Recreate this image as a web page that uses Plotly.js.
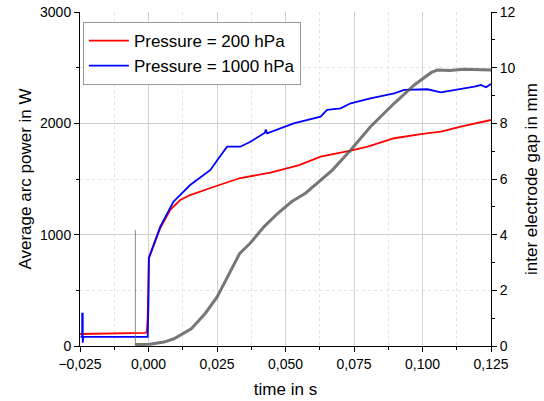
<!DOCTYPE html>
<html><head><meta charset="utf-8">
<script src="https://cdn.plot.ly/plotly-3.0.1.min.js"></script>
<style>html,body{margin:0;padding:0;background:#fff}#chart{width:544px;height:401px}</style>
</head><body><div id="chart"></div>
<script>
// Average arc power, 200 hPa
const t200 = [-0.025,-0.015,-0.005,-0.0012,-0.0006,-0.0003,0.0000,0.0002,0.0043,0.0079,0.0116,0.0152,0.0226,0.0335,0.0445,0.0482,0.0550,0.0628,0.0680,0.0738,0.0800,0.0897,0.0994,0.1067,0.1140,0.1250];
const p200 = [108,112,116,118,125,260,600,790,1060,1222,1311,1356,1419,1509,1557,1581,1625,1701,1725,1755,1790,1866,1904,1925,1970,2030];
// Average arc power, 1000 hPa
const t1000 = [-0.0248,-0.0242,-0.0242,-0.0240,-0.0240,-0.0238,-0.010,-0.0003,0.0000,0.0001,0.0043,0.0091,0.0152,0.0226,0.0256,0.0287,0.0335,0.0372,0.0425,0.0428,0.0433,0.0530,0.0628,0.0652,0.0701,0.0738,0.0810,0.0897,0.0933,0.1018,0.1067,0.1140,0.1189,0.1213,0.1232,0.1250];
const p1000 = [82,82,290,290,30,82,82,82,400,790,1072,1296,1446,1581,1686,1790,1790,1835,1915,1945,1910,2000,2060,2120,2135,2180,2225,2270,2300,2306,2279,2306,2330,2344,2324,2353];
// Inter electrode gap (mm)
const tGap = [-0.0048,-0.0020,0.0005,0.0056,0.0093,0.0156,0.0207,0.0251,0.0295,0.0333,0.0371,0.0422,0.0472,0.0523,0.0573,0.0624,0.0671,0.0738,0.0810,0.0897,0.0970,0.1031,0.1055,0.1100,0.1150,0.1250];
const gGap = [0.05,0.05,0.06,0.14,0.26,0.62,1.17,1.77,2.61,3.33,3.69,4.29,4.77,5.19,5.49,5.91,6.32,7.04,7.88,8.72,9.38,9.82,9.92,9.90,9.94,9.92];
const tSpike = [-0.0048,-0.0048];
const gSpike = [4.17,0.0];
const xTicks = [-0.025,0,0.025,0.05,0.075,0.1,0.125];

const traces = [
  {x:tSpike,y:gSpike,yaxis:'y2',mode:'lines',line:{color:'rgba(110,110,110,0.8)',width:1},showlegend:false,hoverinfo:'skip'},
  {x:tGap,y:gGap,yaxis:'y2',mode:'lines',line:{color:'rgba(85,85,85,0.8)',width:3},showlegend:false},
  {x:t200,y:p200,mode:'lines',name:'Pressure = 200 hPa',line:{color:'#ff0000',width:1.8}},
  {x:t1000,y:p1000,mode:'lines',name:'Pressure = 1000 hPa',line:{color:'#0000ff',width:1.8}}
];
const fam = '"Liberation Sans", Arial, sans-serif';
const font = {family:fam,size:14,color:'#000'};
const layout = {
  width:544,height:401,margin:{l:80,r:53,t:12,b:55},
  paper_bgcolor:'#fff',plot_bgcolor:'#fff',font:font,separators:', ',
  showlegend:true,
  legend:{x:0.007,y:0.97,xanchor:'left',yanchor:'top',bordercolor:'#999',borderwidth:1,bgcolor:'#fff',itemwidth:40,font:{family:fam,size:17,color:'#000'},tracegroupgap:0},
  xaxis:{range:[-0.025,0.125],tickvals:xTicks,tickformat:'.3f',ticks:'outside',ticklen:5,tickcolor:'#000',
    showline:true,linecolor:'#000',linewidth:1,zeroline:false,showgrid:true,gridcolor:'#d0d0d0',gridwidth:1,
    minor:{dtick:0.0125,tick0:0,ticks:'outside',ticklen:3,tickcolor:'#000',showgrid:true,gridcolor:'#e4e4e4',griddash:'dot'},
    title:{text:'time in s',font:{family:fam,size:17},standoff:12}},
  yaxis:{range:[0,3000],dtick:1000,tickformat:'d',ticks:'outside',ticklen:5,tickcolor:'#000',
    showline:true,linecolor:'#000',linewidth:1,zeroline:false,showgrid:true,gridcolor:'#d0d0d0',
    minor:{dtick:500,ticks:'outside',ticklen:3,tickcolor:'#000',showgrid:true,gridcolor:'#e4e4e4',griddash:'dot'},
    title:{text:'Average arc power in W',font:{family:fam,size:17},standoff:4}},
  yaxis2:{overlaying:'y',side:'right',range:[0,12],dtick:2,ticks:'outside',ticklen:5,tickcolor:'#000',
    showline:true,linecolor:'#000',linewidth:1,zeroline:false,showgrid:false,
    minor:{dtick:1,ticks:'outside',ticklen:3,tickcolor:'#000',showgrid:false},
    title:{text:'inter electrode gap in mm',font:{family:fam,size:17},standoff:10}}
};
Plotly.newPlot('chart',traces,layout,{staticPlot:true,displayModeBar:false});
</script></body></html>
